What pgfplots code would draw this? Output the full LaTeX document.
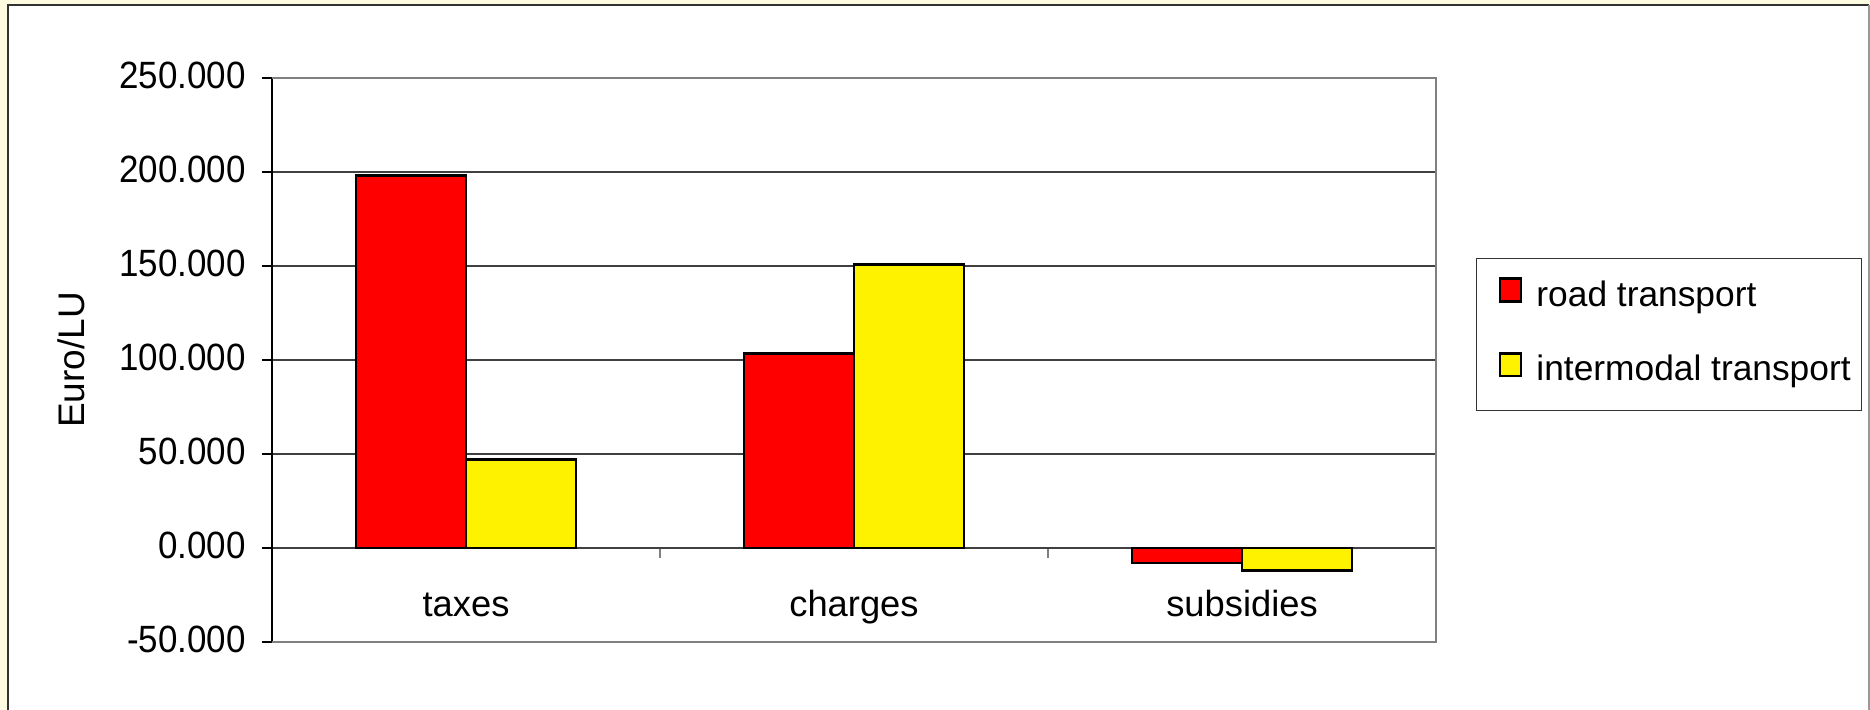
\documentclass[border=0pt]{standalone}
\usepackage{fontspec}
\setmainfont{Liberation Sans}
\newfontfamily\ticksans[FakeStretch=0.92]{Liberation Sans}
\usepackage{pgfplots}
\pgfplotsset{compat=1.18}
\definecolor{panelcream}{RGB}{253,252,224}
\definecolor{framegray}{RGB}{128,128,128}
\definecolor{gridgray}{RGB}{64,64,64}
\begin{document}
\begin{tikzpicture}
\path[use as bounding box] (0,0) rectangle (561pt,213pt);
% panel behind the chart
\fill[panelcream] (0,0) rectangle (561pt,213pt);
\fill[white] (2.25pt,-2pt) rectangle (560.7pt,211.5pt);
\draw[black!80, line width=0.6pt] (2.25pt,-2pt) -- (2.25pt,211.5pt) -- (560.7pt,211.5pt);
\draw[black!40, line width=0.5pt] (560.7pt,211.5pt) -- (560.7pt,-2pt);
\begin{axis}[
  at={(81.6pt,20.4pt)}, anchor=south west,
  scale only axis, width=349.2pt, height=169.2pt,
  xmin=-0.5, xmax=2.5, ymin=-50, ymax=250,
  axis x line=middle, axis y line=left,
  axis line style={-},
  x axis line style={gridgray, line width=0.45pt},
  y axis line style={black, line width=0.5pt},
  hide obscured x ticks=false, hide obscured y ticks=false,
  ytick={-50,0,...,250},
  ymajorgrids, grid style={gridgray, line width=0.45pt},
  tick align=outside, major tick length=3pt,
  ytick style={black, line width=0.45pt},
  xtick={-0.5,0.5,1.5,2.5}, xticklabels={},
  xtick style={framegray, line width=0.5pt},
  extra x ticks={0,1,2},
  extra x tick labels={taxes,charges,subsidies},
  extra x tick style={major tick length=0pt, grid=none},
  xticklabel style={font=\fontsize{10.9}{13}\selectfont, anchor=base, inner sep=0pt, yshift=-20.6pt},
  yticklabel style={font=\ticksans\fontsize{11.4}{14}\selectfont, anchor=east, inner sep=0pt,
    xshift=-4.7pt, yshift=0.7pt,
    /pgf/number format/.cd, fixed, fixed zerofill, precision=3, assume math mode=true},
  ylabel={Euro/LU},
  ylabel style={at={(axis description cs:-0.1607,0.5)}, anchor=base, inner sep=0pt,
    font=\fontsize{11.1}{13}\selectfont},
  legend style={at={(axis description cs:1.0344,0.6809)}, anchor=north west,
    draw=black!80, line width=0.4pt, inner xsep=3.3pt, inner ysep=5.6pt,
    row sep=10.5pt, column sep=4.2pt, font=\fontsize{10.6}{12}\selectfont,
    nodes={inner sep=0pt, text height=7.2pt, text depth=3.3pt}},
  legend cell align=left,
  legend image code/.code={\path (0pt,0pt); \draw[#1, line width=0.8pt] (3.3pt,-0.5pt) rectangle (9.6pt,6.3pt);},
  every axis plot/.append style={ybar, bar width=0.2835, draw=black, line width=0.85pt},
  after end axis/.code={
    \draw[framegray, line width=0.75pt] (rel axis cs:0,1) -- (rel axis cs:1,1) -- (rel axis cs:1,0) -- (rel axis cs:0,0);
  },
]
% taxes = 0, charges = 1, subsidies = 2
\addplot[fill=red, bar shift=-0.14175]
  coordinates {(0,198) (1,103.5) (2,-8)};
\addlegendentry{road transport}
\addplot[fill=yellow, bar shift=0.14175]
  coordinates {(0,47) (1,151) (2,-12)};
\addlegendentry{intermodal transport}
\end{axis}
\end{tikzpicture}
\end{document}
